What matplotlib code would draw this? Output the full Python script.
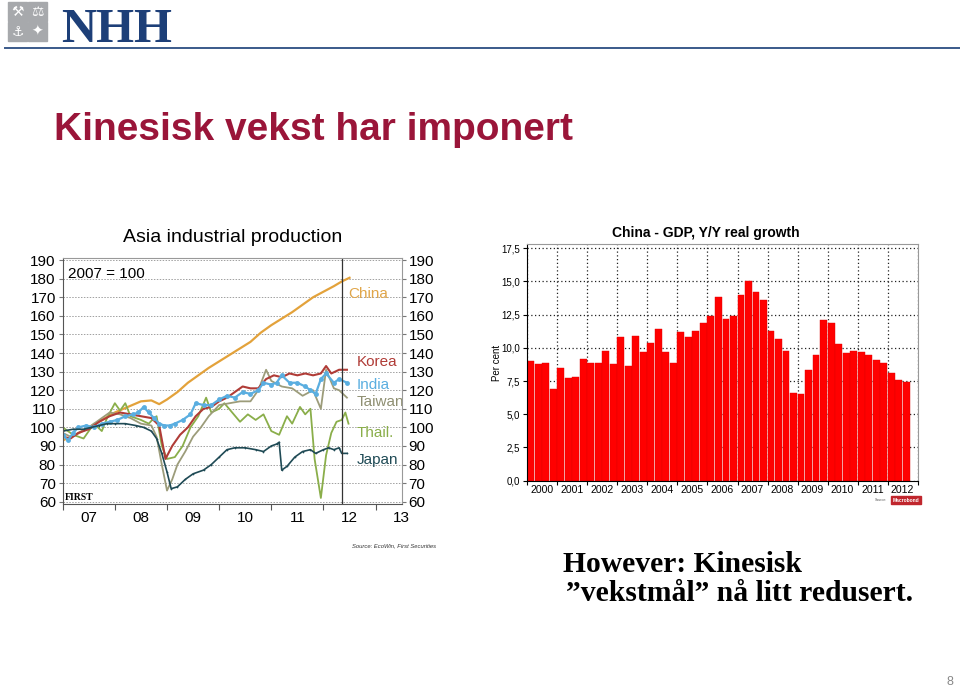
import matplotlib
matplotlib.use("Agg")
import matplotlib.pyplot as plt
from matplotlib.patches import Rectangle

plt.rcParams["font.family"] = ["Liberation Sans", "DejaVu Sans"]

W, H = 960, 689

# ---- Asia industrial production (2007 = 100) ----
china_t = [2007.0, 2007.25, 2007.5, 2007.75, 2008.0, 2008.25, 2008.5, 2008.7, 2008.85, 2009.0,
           2009.2, 2009.4, 2009.6, 2009.8, 2010.0, 2010.2, 2010.4, 2010.6, 2010.8, 2011.0,
           2011.2, 2011.4, 2011.6, 2011.8, 2012.0, 2012.2, 2012.35, 2012.5]
china_v = [93, 96, 100, 104, 108, 111, 114, 114.5, 112.5, 115,
           119, 124, 128, 132, 135.5, 139, 142.5, 146, 151, 155,
           158.5, 162, 166, 170, 173, 176, 178.5, 180.5]

korea_t = [2007.0, 2007.15, 2007.3, 2007.5, 2007.7, 2007.9, 2008.1, 2008.3, 2008.5, 2008.7,
           2008.85, 2008.97, 2009.1, 2009.25, 2009.4, 2009.55, 2009.7, 2009.85, 2010.0, 2010.15,
           2010.3, 2010.45, 2010.6, 2010.75, 2010.9, 2011.05, 2011.2, 2011.35, 2011.5, 2011.65,
           2011.8, 2011.95, 2012.05, 2012.15, 2012.3, 2012.45]
korea_v = [95, 94, 97, 99, 103, 106, 108, 107, 106, 105,
           101, 83, 90, 96, 100, 106, 110, 111, 114, 116,
           119, 122, 121, 121, 126, 128, 127, 129, 128, 129,
           128, 129, 133, 129, 131, 131]

india_t = [2007.0, 2007.1, 2007.2, 2007.3, 2007.45, 2007.6, 2007.75, 2007.9, 2008.05, 2008.2,
           2008.35, 2008.45, 2008.55, 2008.65, 2008.75, 2008.85, 2008.95, 2009.05, 2009.15, 2009.3,
           2009.45, 2009.55, 2009.7, 2009.85, 2010.0, 2010.15, 2010.3, 2010.45, 2010.6, 2010.75,
           2010.85, 2011.0, 2011.1, 2011.2, 2011.35, 2011.5, 2011.65, 2011.75, 2011.85, 2011.95,
           2012.05, 2012.2, 2012.3, 2012.45]
india_v = [96, 93, 97, 100, 101, 100, 102, 103, 104, 106,
           107, 108, 111, 108, 105, 102, 101, 101, 102, 104,
           107, 113, 112, 112, 115, 117, 116, 119, 118, 120,
           124, 123, 124, 128, 124, 124, 122, 120, 118, 126,
           129, 124, 126, 124]

taiwan_t = [2007.0, 2007.15, 2007.3, 2007.5, 2007.7, 2007.9, 2008.1, 2008.3, 2008.5, 2008.7,
            2008.8, 2008.9, 2009.0, 2009.1, 2009.2, 2009.35, 2009.5, 2009.65, 2009.8, 2010.0,
            2010.2, 2010.4, 2010.6, 2010.75, 2010.9, 2011.0, 2011.2, 2011.4, 2011.6, 2011.8,
            2011.95, 2012.05, 2012.2, 2012.3, 2012.45]
taiwan_v = [97, 95, 97, 100, 104, 108, 107, 105, 102, 101,
            95, 80, 66, 72, 80, 87, 95, 100, 106, 112,
            113, 114, 114, 120, 131, 125, 122, 121, 117, 120,
            110, 131, 121, 120, 116]

thai_t = [2007.0, 2007.2, 2007.4, 2007.6, 2007.75, 2007.85, 2008.0, 2008.1, 2008.2, 2008.3,
          2008.5, 2008.65, 2008.75, 2008.8, 2008.9, 2009.0, 2009.15, 2009.3, 2009.45, 2009.6,
          2009.75, 2009.85, 2010.0, 2010.1, 2010.25, 2010.4, 2010.55, 2010.7, 2010.85, 2011.0,
          2011.15, 2011.3, 2011.4, 2011.55, 2011.65, 2011.75, 2011.83, 2011.95, 2012.05, 2012.15,
          2012.25, 2012.35, 2012.42, 2012.48]
thai_v = [100, 96, 94, 102, 98, 105, 113, 109, 113, 106,
          104, 102, 105, 106, 90, 83, 84, 90, 100, 106,
          116, 108, 110, 113, 108, 103, 107, 104, 107, 98,
          96, 106, 102, 111, 107, 110, 83, 62, 85, 97,
          103, 104, 108, 102]

japan_t = [2007.0, 2007.2, 2007.4, 2007.55, 2007.7, 2007.85, 2008.0, 2008.2, 2008.4, 2008.55,
           2008.7, 2008.8, 2008.9, 2009.0, 2009.08, 2009.2, 2009.35, 2009.5, 2009.7, 2009.85,
           2010.0, 2010.15, 2010.3, 2010.5, 2010.7, 2010.85, 2011.0, 2011.1, 2011.15, 2011.2,
           2011.3, 2011.45, 2011.6, 2011.75, 2011.85, 2012.0, 2012.1, 2012.2, 2012.3, 2012.35,
           2012.45]
japan_v = [98, 99, 99, 100, 101, 102, 102, 102, 101, 100,
           98, 94, 86, 76, 67, 68, 72, 75, 77, 80,
           84, 88, 89, 89, 88, 87, 90, 91, 92, 77,
           79, 84, 87, 88, 86, 88, 89, 88, 89, 86,
           86]

ip_years = ["07", "08", "09", "10", "11", "12", "13"]
ip_yticks = [60, 70, 80, 90, 100, 110, 120, 130, 140, 150, 160, 170, 180, 190]

# ---- China GDP, Y/Y real growth (quarterly, 2000Q1 - 2012Q3) ----
gdp_years = ["2000", "2001", "2002", "2003", "2004", "2005", "2006",
             "2007", "2008", "2009", "2010", "2011", "2012"]
gdp_growth = [9.0, 8.8, 8.9, 6.9,
              8.5, 7.7, 7.8, 9.2,
              8.9, 8.9, 9.8, 8.8,
              10.8, 8.6, 10.9, 9.7,
              10.4, 11.4, 9.7, 8.9,
              11.2, 10.8, 11.3, 11.9,
              12.4, 13.8, 12.2, 12.4,
              14.0, 15.0, 14.2, 13.6,
              11.3, 10.7, 9.8, 6.6,
              6.5, 8.3, 9.5, 12.1,
              11.9, 10.3, 9.6, 9.8,
              9.7, 9.5, 9.1, 8.9,
              8.1, 7.6, 7.4]
gdp_yticks = [0, 2.5, 5, 7.5, 10, 12.5, 15, 17.5]


def box(x0, y0, x1, y1):
    """pixel box (top-left origin) -> figure fractions"""
    return [x0 / W, 1 - y1 / H, (x1 - x0) / W, (y1 - y0) / H]


fig = plt.figure(figsize=(9.6, 6.89), dpi=100)
fig.patch.set_facecolor("white")

# ---- header ----
logo_cols = [(8, 2), (28, 2), (8, 22), (28, 22)]
glyphs = ["\u2692", "\u2696", "\u2693", "\u2726"]
for (px, py), g in zip(logo_cols, glyphs):
    fig.patches.append(Rectangle((px / W, 1 - (py + 19) / H), 19 / W, 19 / H,
                                 transform=fig.transFigure, color="#a7a9ac"))
    fig.text((px + 9.5) / W, 1 - (py + 9.5) / H, g, color="white", fontsize=10,
             ha="center", va="center", family=["DejaVu Sans"])
fig.text(61 / W, 1 - 42 / H, "NHH", family=["Liberation Serif"], fontweight="bold",
         fontsize=35, color="#1d3f78", ha="left", va="baseline")
fig.add_artist(plt.Line2D([5 / W, 1], [1 - 48 / H] * 2, color="#3a5a8a", lw=1.4))

fig.text(54 / W, 1 - 130 / H, "Kinesisk vekst har imponert", fontsize=28,
         fontweight="bold", color="#9a1539", ha="left", va="center")

# ---- left chart ----
ax = fig.add_axes(box(62.7, 257.7, 401.7, 504.3))
series = [
    (china_t, china_v, "#e3a23b", 1.6, None),
    (thai_t, thai_v, "#8aae4a", 1.3, None),
    (taiwan_t, taiwan_v, "#9c9c7a", 1.3, None),
    (korea_t, korea_v, "#b03c37", 1.5, None),
    (india_t, india_v, "#5aaee0", 1.6, "o"),
    (japan_t, japan_v, "#1f4a55", 1.2, "."),
]
for t, v, c, lw, mk in series:
    ax.plot(t, v, color=c, lw=lw, marker=mk, markersize=3.5 if mk == "o" else 2.5,
            markeredgewidth=0)
ax.axvline(2012.36, color="#333333", lw=0.9)
ax.set_xlim(2007, 2013.48)
ax.set_ylim(58.6, 191.3)
ax.set_yticks(ip_yticks)
ax.grid(axis="y", linestyle=(0, (1.5, 1.5)), color="#a0a0a0", lw=0.7)
ax.tick_params(axis="y", which="both", labelleft=True, labelright=True, right=True,
               labelsize=11, length=3, color="#777777", pad=2)
ax.set_xticks(range(2007, 2014))
ax.set_xticklabels([])
ax.set_xticks([y + 0.5 for y in range(2007, 2014)], minor=True)
ax.set_xticklabels(ip_years, minor=True, fontsize=11)
ax.tick_params(axis="x", which="minor", length=0, pad=5)
ax.tick_params(axis="x", which="major", length=4, color="#555555")
for s in ["top", "right"]:
    ax.spines[s].set_color("#999999")
for s in ["left", "bottom"]:
    ax.spines[s].set_color("#555555")
ax.set_title("Asia industrial production", fontsize=14, pad=11)
ax.text(2007.1, 182.5, "2007 = 100", fontsize=11, va="center")
ax.text(2007.05, 62.5, "FIRST", family=["Liberation Serif"], fontweight="bold",
        fontsize=7, va="center")
labels = [("China", 171.5, "#e0a64a"), ("Korea", 135.3, "#b03c37"),
          ("India", 122.9, "#5aaee0"), ("Taiwan", 113.7, "#8f8f72"),
          ("Thail.", 97, "#8aae4a"), ("Japan", 82.7, "#1f4a55")]
for name, yv, c in labels:
    ax.text(2012.47 if name == "China" else 2012.64, yv, name, color=c,
            fontsize=11, va="center", clip_on=True)

fig.text(352 / W, 1 - 546 / H, "Source: EcoWin, First Securities", fontsize=4.2,
         style="italic", ha="left", va="center", color="#333333")

# ---- right chart ----
bx = fig.add_axes(box(527.3, 244.3, 917.7, 480.7))
bx.bar(range(len(gdp_growth)), gdp_growth, width=0.92, align="edge",
       color="#ff0000", edgecolor="#e00000", lw=0.3, zorder=2)
bx.set_xlim(0, 52)
bx.set_ylim(0, 17.8)
bx.set_yticks(gdp_yticks)
bx.set_yticklabels([f"{v:.1f}".replace(".", ",") for v in gdp_yticks], fontsize=7)
bx.set_xticks([4 * i for i in range(14)])
bx.set_xticklabels([])
bx.set_xticks([4 * i + 2 for i in range(13)], minor=True)
bx.set_xticklabels(gdp_years, minor=True, fontsize=7.6)
bx.tick_params(axis="x", which="minor", length=0, pad=3)
bx.tick_params(axis="x", which="major", length=3)
bx.tick_params(axis="y", length=3, pad=2)
bx.grid(True, which="major", linestyle=(0, (1, 2)), color="#222222", lw=0.9, zorder=1)
bx.set_axisbelow(True)
for s in ["top", "right"]:
    bx.spines[s].set_color("#999999")
bx.set_ylabel("Per cent", fontsize=7, labelpad=0)
bx.text(0.458, 1.02, "China - GDP, Y/Y real growth", transform=bx.transAxes,
        fontsize=10, fontweight="bold", ha="center", va="bottom")
fig.text(887 / W, 1 - 500 / H, "Source:", fontsize=2.5, ha="right", va="center",
         color="#555555")
fig.text(906 / W, 1 - 500 / H, "Macrobond", fontsize=3.5, ha="center", va="center",
         color="white", fontweight="bold",
         bbox=dict(boxstyle="square,pad=0.25", fc="#c0262d", ec="#c0262d"))

# ---- bottom text ----
fig.text(563 / W, 1 - 572 / H, "However: Kinesisk", family=["Liberation Serif"],
         fontweight="bold", fontsize=21.3, ha="left", va="baseline")
fig.text(566 / W, 1 - 601 / H, "\u201dvekstmål\u201d nå litt redusert.",
         family=["Liberation Serif"], fontweight="bold", fontsize=21.3, ha="left",
         va="baseline")

fig.text(950 / W, 1 - 682 / H, "8", fontsize=9, color="#888888", ha="center",
         va="center")

fig.savefig("out.png", dpi=100, facecolor="white")
